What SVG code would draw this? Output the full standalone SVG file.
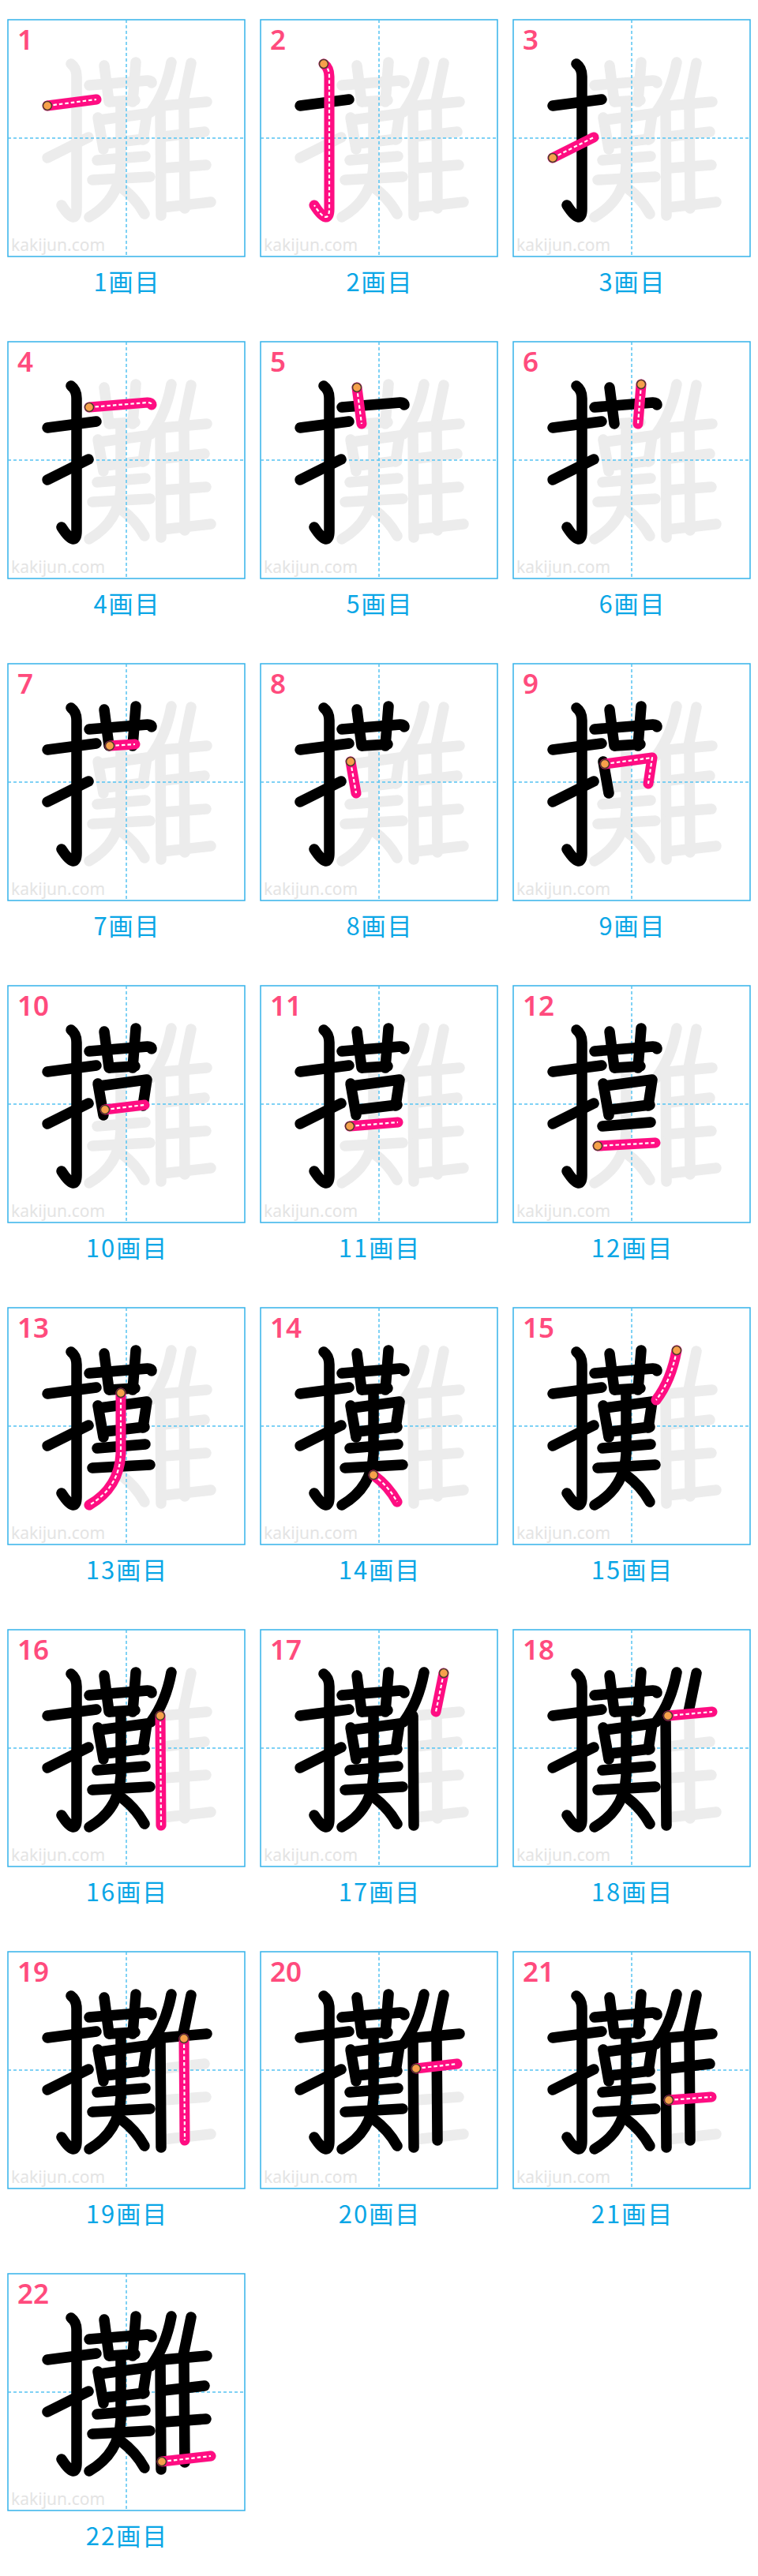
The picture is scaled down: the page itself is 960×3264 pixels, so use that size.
<svg xmlns="http://www.w3.org/2000/svg" xmlns:xlink="http://www.w3.org/1999/xlink" width="960" height="3264" viewBox="0 0 960 3264">
<style>
.frame{fill:#fff;stroke:#35b3ea;stroke-width:1.5}
.guide{fill:none;stroke:#55c3f2;stroke-width:1.5;stroke-dasharray:4 3}
.wm{font-family:"Noto Sans","Liberation Sans",sans-serif;font-size:21px;fill:#e4e4e4}
.g{fill:none;stroke:#ececec;stroke-width:13.5;stroke-linecap:round;stroke-linejoin:round}
.b{fill:none;stroke:#000;stroke-width:13.5;stroke-linecap:round;stroke-linejoin:round}
.r{fill:none;stroke:#ff0d82;stroke-width:13;stroke-linecap:round;stroke-linejoin:round}
.d{fill:none;stroke:#fff;stroke-width:2.2;stroke-dasharray:4.5 3;stroke-linejoin:round}
.st{fill:#f7a04b;stroke:#4d3a2e;stroke-width:1.5}
.num{font-family:"Noto Sans","Liberation Sans",sans-serif;font-weight:600;font-size:35px;fill:#ff4b7d}
.lbl{font-family:"Noto Sans CJK JP","Noto Sans",sans-serif;font-size:31px;fill:#0aa6e6;text-anchor:middle;letter-spacing:2px}
</style>
<defs>
<path id="s1" d="M50,109 L112,101"/>
<path id="s2" d="M80,56 Q87,61 87,72 L87,240 C87,254 80,254 68,235"/>
<path id="s3" d="M50,175 L102,149"/>
<path id="s4" d="M103,83 L177,77 Q182,77 182,80"/>
<path id="s5" d="M122,58 L128,104"/>
<path id="s6" d="M162,54 L158,104"/>
<path id="s7" d="M129,104 L161,102"/>
<path id="s8" d="M114,124 L121,164"/>
<path id="s9" d="M116,127 L176,119 L171,152"/>
<path id="s10" d="M123,157 L173,151"/>
<path id="s11" d="M113,178 L174,173"/>
<path id="s12" d="M107,203 L180,199"/>
<path id="s13" d="M143,108 L143,185 Q141,228 103,250"/>
<path id="s14" d="M143,212 Q162,226 173,246"/>
<path id="s15" d="M207,54 Q200,92 181,117"/>
<path id="s16" d="M193,109 L194,248"/>
<path id="s17" d="M232,55 L222,104"/>
<path id="s18" d="M196,109 L252,104"/>
<path id="s19" d="M223,110 L224,239"/>
<path id="s20" d="M197,148 L249,142"/>
<path id="s21" d="M197,188 L251,184"/>
<path id="s22" d="M195,238 L257,231"/>
<g id="k1"><use href="#s1"/></g>
<g id="k2"><use href="#k1"/><use href="#s2"/></g>
<g id="k3"><use href="#k2"/><use href="#s3"/></g>
<g id="k4"><use href="#k3"/><use href="#s4"/></g>
<g id="k5"><use href="#k4"/><use href="#s5"/></g>
<g id="k6"><use href="#k5"/><use href="#s6"/></g>
<g id="k7"><use href="#k6"/><use href="#s7"/></g>
<g id="k8"><use href="#k7"/><use href="#s8"/></g>
<g id="k9"><use href="#k8"/><use href="#s9"/></g>
<g id="k10"><use href="#k9"/><use href="#s10"/></g>
<g id="k11"><use href="#k10"/><use href="#s11"/></g>
<g id="k12"><use href="#k11"/><use href="#s12"/></g>
<g id="k13"><use href="#k12"/><use href="#s13"/></g>
<g id="k14"><use href="#k13"/><use href="#s14"/></g>
<g id="k15"><use href="#k14"/><use href="#s15"/></g>
<g id="k16"><use href="#k15"/><use href="#s16"/></g>
<g id="k17"><use href="#k16"/><use href="#s17"/></g>
<g id="k18"><use href="#k17"/><use href="#s18"/></g>
<g id="k19"><use href="#k18"/><use href="#s19"/></g>
<g id="k20"><use href="#k19"/><use href="#s20"/></g>
<g id="k21"><use href="#k20"/><use href="#s21"/></g>
<g id="k22"><use href="#k21"/><use href="#s22"/></g>
<g id="base">
<rect class="frame" x="0" y="0" width="300" height="300"/>
<text class="wm" x="4" y="293">kakijun.com</text>
<use href="#k22" class="g"/>
<path class="guide" d="M150,0V300M0,150H300"/>
</g>
</defs>
<rect width="960" height="3264" fill="#fff"/>

<g id="cell-1" transform="translate(10,25)"><use href="#base"/><use href="#s1" class="r"/><use href="#s1" class="d"/><circle class="st" cx="50" cy="109" r="5.5"/><text class="num" x="12" y="38">1</text><text class="lbl" x="151" y="344">1画目</text></g>
<g id="cell-2" transform="translate(330,25)"><use href="#base"/><use href="#k1" class="b"/><use href="#s2" class="r"/><use href="#s2" class="d"/><circle class="st" cx="80" cy="56" r="5.5"/><text class="num" x="12" y="38">2</text><text class="lbl" x="151" y="344">2画目</text></g>
<g id="cell-3" transform="translate(650,25)"><use href="#base"/><use href="#k2" class="b"/><use href="#s3" class="r"/><use href="#s3" class="d"/><circle class="st" cx="50" cy="175" r="5.5"/><text class="num" x="12" y="38">3</text><text class="lbl" x="151" y="344">3画目</text></g>

<g id="cell-4" transform="translate(10,433)"><use href="#base"/><use href="#k3" class="b"/><use href="#s4" class="r"/><use href="#s4" class="d"/><circle class="st" cx="103" cy="83" r="5.5"/><text class="num" x="12" y="38">4</text><text class="lbl" x="151" y="344">4画目</text></g>
<g id="cell-5" transform="translate(330,433)"><use href="#base"/><use href="#k4" class="b"/><use href="#s5" class="r"/><use href="#s5" class="d"/><circle class="st" cx="122" cy="58" r="5.5"/><text class="num" x="12" y="38">5</text><text class="lbl" x="151" y="344">5画目</text></g>
<g id="cell-6" transform="translate(650,433)"><use href="#base"/><use href="#k5" class="b"/><use href="#s6" class="r"/><use href="#s6" class="d"/><circle class="st" cx="162" cy="54" r="5.5"/><text class="num" x="12" y="38">6</text><text class="lbl" x="151" y="344">6画目</text></g>

<g id="cell-7" transform="translate(10,841)"><use href="#base"/><use href="#k6" class="b"/><use href="#s7" class="r"/><use href="#s7" class="d"/><circle class="st" cx="129" cy="104" r="5.5"/><text class="num" x="12" y="38">7</text><text class="lbl" x="151" y="344">7画目</text></g>
<g id="cell-8" transform="translate(330,841)"><use href="#base"/><use href="#k7" class="b"/><use href="#s8" class="r"/><use href="#s8" class="d"/><circle class="st" cx="114" cy="124" r="5.5"/><text class="num" x="12" y="38">8</text><text class="lbl" x="151" y="344">8画目</text></g>
<g id="cell-9" transform="translate(650,841)"><use href="#base"/><use href="#k8" class="b"/><use href="#s9" class="r"/><use href="#s9" class="d"/><circle class="st" cx="116" cy="127" r="5.5"/><text class="num" x="12" y="38">9</text><text class="lbl" x="151" y="344">9画目</text></g>

<g id="cell-10" transform="translate(10,1249)"><use href="#base"/><use href="#k9" class="b"/><use href="#s10" class="r"/><use href="#s10" class="d"/><circle class="st" cx="123" cy="157" r="5.5"/><text class="num" x="12" y="38">10</text><text class="lbl" x="151" y="344">10画目</text></g>
<g id="cell-11" transform="translate(330,1249)"><use href="#base"/><use href="#k10" class="b"/><use href="#s11" class="r"/><use href="#s11" class="d"/><circle class="st" cx="113" cy="178" r="5.5"/><text class="num" x="12" y="38">11</text><text class="lbl" x="151" y="344">11画目</text></g>
<g id="cell-12" transform="translate(650,1249)"><use href="#base"/><use href="#k11" class="b"/><use href="#s12" class="r"/><use href="#s12" class="d"/><circle class="st" cx="107" cy="203" r="5.5"/><text class="num" x="12" y="38">12</text><text class="lbl" x="151" y="344">12画目</text></g>

<g id="cell-13" transform="translate(10,1657)"><use href="#base"/><use href="#k12" class="b"/><use href="#s13" class="r"/><use href="#s13" class="d"/><circle class="st" cx="143" cy="108" r="5.5"/><text class="num" x="12" y="38">13</text><text class="lbl" x="151" y="344">13画目</text></g>
<g id="cell-14" transform="translate(330,1657)"><use href="#base"/><use href="#k13" class="b"/><use href="#s14" class="r"/><use href="#s14" class="d"/><circle class="st" cx="143" cy="212" r="5.5"/><text class="num" x="12" y="38">14</text><text class="lbl" x="151" y="344">14画目</text></g>
<g id="cell-15" transform="translate(650,1657)"><use href="#base"/><use href="#k14" class="b"/><use href="#s15" class="r"/><use href="#s15" class="d"/><circle class="st" cx="207" cy="54" r="5.5"/><text class="num" x="12" y="38">15</text><text class="lbl" x="151" y="344">15画目</text></g>

<g id="cell-16" transform="translate(10,2065)"><use href="#base"/><use href="#k15" class="b"/><use href="#s16" class="r"/><use href="#s16" class="d"/><circle class="st" cx="193" cy="109" r="5.5"/><text class="num" x="12" y="38">16</text><text class="lbl" x="151" y="344">16画目</text></g>
<g id="cell-17" transform="translate(330,2065)"><use href="#base"/><use href="#k16" class="b"/><use href="#s17" class="r"/><use href="#s17" class="d"/><circle class="st" cx="232" cy="55" r="5.5"/><text class="num" x="12" y="38">17</text><text class="lbl" x="151" y="344">17画目</text></g>
<g id="cell-18" transform="translate(650,2065)"><use href="#base"/><use href="#k17" class="b"/><use href="#s18" class="r"/><use href="#s18" class="d"/><circle class="st" cx="196" cy="109" r="5.5"/><text class="num" x="12" y="38">18</text><text class="lbl" x="151" y="344">18画目</text></g>

<g id="cell-19" transform="translate(10,2473)"><use href="#base"/><use href="#k18" class="b"/><use href="#s19" class="r"/><use href="#s19" class="d"/><circle class="st" cx="223" cy="110" r="5.5"/><text class="num" x="12" y="38">19</text><text class="lbl" x="151" y="344">19画目</text></g>
<g id="cell-20" transform="translate(330,2473)"><use href="#base"/><use href="#k19" class="b"/><use href="#s20" class="r"/><use href="#s20" class="d"/><circle class="st" cx="197" cy="148" r="5.5"/><text class="num" x="12" y="38">20</text><text class="lbl" x="151" y="344">20画目</text></g>
<g id="cell-21" transform="translate(650,2473)"><use href="#base"/><use href="#k20" class="b"/><use href="#s21" class="r"/><use href="#s21" class="d"/><circle class="st" cx="197" cy="188" r="5.5"/><text class="num" x="12" y="38">21</text><text class="lbl" x="151" y="344">21画目</text></g>

<g id="cell-22" transform="translate(10,2881)"><use href="#base"/><use href="#k21" class="b"/><use href="#s22" class="r"/><use href="#s22" class="d"/><circle class="st" cx="195" cy="238" r="5.5"/><text class="num" x="12" y="38">22</text><text class="lbl" x="151" y="344">22画目</text></g>
</svg>
